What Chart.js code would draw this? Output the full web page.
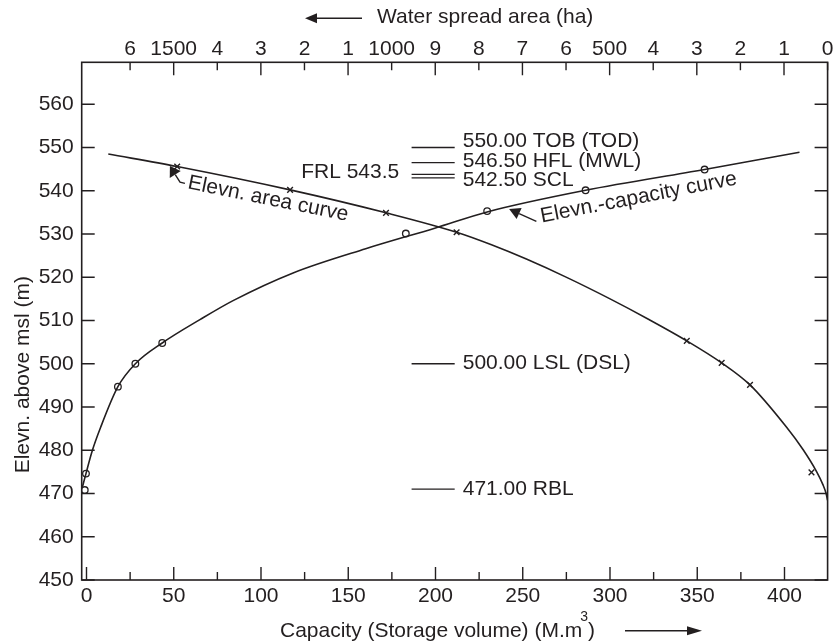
<!DOCTYPE html>
<html>
<head>
<meta charset="utf-8">
<script src="https://cdn.jsdelivr.net/npm/chart.js@4.4.0/dist/chart.umd.min.js"></script>
<style>
  html, body { margin: 0; padding: 0; background: #fff; }
  #wrap { width: 833px; height: 642px; position: relative; }
</style>
</head>
<body>
<div id="wrap"><canvas id="elevChart"></canvas></div>
<script>
// bottom axis: capacity (M.m3)
const capacityTicks = [0, 50, 100, 150, 200, 250, 300, 350, 400];
const capacityMinorTicks = [25, 75, 125, 175, 225, 275, 325, 375];
// left / right axis: elevation (m)
const elevationTicks = [450, 460, 470, 480, 490, 500, 510, 520, 530, 540, 550, 560];
// top axis: water spread area (ha), reversed
const areaTicks = [0, 100, 200, 300, 400, 500, 600, 700, 800, 900, 1000, 1100, 1200, 1300, 1400, 1500, 1600];

// elevation - capacity curve
const capCurveMcm  = [-2.4, -0.3, 3, 8, 18, 28, 43.4, 65, 84, 118.4, 160, 200, 229.6, 286, 354.2, 408.6];
const capCurveElev = [471.4, 474.6, 479.5, 485.2, 494.7, 500, 504.8, 510.2, 514.6, 521, 526.6, 531.4, 535.1, 540.1, 544.9, 548.9];
const capPointMcm  = [-1, -0.3, 18, 28, 43.4, 183, 229.6, 286, 354.2];
const capPointElev = [470.8, 474.6, 494.7, 500, 504.8, 530.1, 535.3, 540.1, 544.9];

// elevation - area curve
const areaCurveHa   = [1650, 1492, 1233, 1013, 851, 771, 691, 595, 499, 411, 323, 243, 178, 94, 56, 25, 10.5, 3.4, 0];
const areaCurveElev = [548.5, 545.6, 540.2, 534.9, 530.4, 527.5, 524.2, 519.8, 515.0, 510.3, 505.3, 500.2, 495.1, 485.3, 480.1, 475, 472, 470, 468.4];
const areaPointHa   = [1492, 1233, 1013, 851, 323, 243, 178, 37];
const areaPointElev = [545.6, 540.2, 534.9, 530.4, 505.3, 500.2, 495.1, 474.9];

// reservoir levels (short marker lines)
const levelElev = [550, 546.5, 543.8, 543.0, 500, 471];
const levelFrom = 186.3, levelTo = 211;
const levelText = ['550.00 TOB (TOD)', '546.50 HFL (MWL)', '542.50 SCL', '500.00 LSL (DSL)', '471.00 RBL'];
const levelTextElev = [551.5, 546.8, 542.4, 500.2, 471.1];

const ink = '#231f20';
const font = '"Liberation Sans", Arial, Helvetica, sans-serif';
Chart.defaults.font.family = font;
Chart.defaults.font.size = 21;
Chart.defaults.color = ink;

const pts = (xs, ys) => xs.map((x, i) => ({ x: x, y: ys[i] }));

const datasets = [
  { data: pts(capCurveMcm, capCurveElev), xAxisID: 'x', yAxisID: 'y', borderColor: ink, borderWidth: 1.6,
    pointRadius: 0, cubicInterpolationMode: 'monotone', fill: false },
  { data: pts(areaCurveHa, areaCurveElev), xAxisID: 'x2', yAxisID: 'y', borderColor: ink, borderWidth: 1.6,
    pointRadius: 0, cubicInterpolationMode: 'monotone', fill: false },
  { data: pts(capPointMcm, capPointElev), xAxisID: 'x', yAxisID: 'y', showLine: false, pointStyle: 'circle',
    pointRadius: 3.3, pointBackgroundColor: '#fff', pointBorderColor: ink, pointBorderWidth: 1.3 },
  { data: pts(areaPointHa, areaPointElev), xAxisID: 'x2', yAxisID: 'y', showLine: false, pointStyle: 'crossRot',
    pointRadius: 4, pointBorderColor: ink, pointBorderWidth: 1.4 }
];
levelElev.forEach(e => {
  datasets.push({ data: [{ x: levelFrom, y: e }, { x: levelTo, y: e }], xAxisID: 'x', yAxisID: 'y',
    borderColor: ink, borderWidth: 1.3, pointRadius: 0, fill: false });
});

function setTicks(values) {
  return scale => { scale.ticks = values.map(v => ({ value: v })); };
}

function areaLabel(v) {
  if (v % 500 === 0 && v > 0) return String(v);
  return String((v / 100) % 10);
}

function arrow(ctx, path, headLen, headW) {
  // path: tail ... tip (pixels)
  const n = path.length;
  const tip = path[n - 1], prev = path[n - 2];
  const dx = tip[0] - prev[0], dy = tip[1] - prev[1];
  const len = Math.hypot(dx, dy);
  const ux = dx / len, uy = dy / len;
  const bx = tip[0] - ux * headLen, by = tip[1] - uy * headLen;
  ctx.beginPath();
  ctx.moveTo(path[0][0], path[0][1]);
  for (let i = 1; i < n - 1; i++) ctx.lineTo(path[i][0], path[i][1]);
  ctx.lineTo(bx, by);
  ctx.stroke();
  ctx.beginPath();
  ctx.moveTo(tip[0], tip[1]);
  ctx.lineTo(bx - uy * headW / 2, by + ux * headW / 2);
  ctx.lineTo(bx + uy * headW / 2, by - ux * headW / 2);
  ctx.closePath();
  ctx.fill();
}

const framePlugin = {
  id: 'frame',
  afterDatasetsDraw(chart) {
    const { ctx, chartArea: a, scales } = chart;
    ctx.save();
    ctx.strokeStyle = ink;
    ctx.lineWidth = 1.6;
    ctx.strokeRect(a.left, a.top, a.right - a.left, a.bottom - a.top);
    ctx.lineWidth = 1.4;
    ctx.beginPath();
    capacityTicks.forEach(v => {
      const px = scales.x.getPixelForValue(v);
      ctx.moveTo(px, a.bottom); ctx.lineTo(px, a.bottom - 13);
    });
    capacityMinorTicks.forEach(v => {
      const px = scales.x.getPixelForValue(v);
      ctx.moveTo(px, a.bottom); ctx.lineTo(px, a.bottom - 8);
    });
    elevationTicks.forEach(v => {
      const py = scales.y.getPixelForValue(v);
      ctx.moveTo(a.left, py); ctx.lineTo(a.left + 13, py);
      ctx.moveTo(a.right, py); ctx.lineTo(a.right - 13, py);
    });
    areaTicks.forEach(v => {
      const px = scales.x2.getPixelForValue(v);
      const len = (v / 100) % 2 === 1 ? 13 : 8;
      ctx.moveTo(px, a.top); ctx.lineTo(px, a.top + len);
    });
    ctx.stroke();
    ctx.restore();
  },
  afterDraw(chart) {
    const { ctx, scales } = chart;
    const X = v => scales.x.getPixelForValue(v);
    const Y = v => scales.y.getPixelForValue(v);
    ctx.save();
    ctx.fillStyle = ink;
    ctx.strokeStyle = ink;
    ctx.lineWidth = 1.4;
    ctx.font = '21px ' + font;
    ctx.textBaseline = 'middle';

    // level labels
    ctx.textAlign = 'left';
    levelText.forEach((t, i) => ctx.fillText(t, X(215.6), Y(levelTextElev[i])));
    ctx.textAlign = 'right';
    ctx.fillText('FRL 543.5', X(179.2), Y(544.3));

    // curve labels
    ctx.textAlign = 'center';
    ctx.save();
    ctx.translate(X(104.1), Y(538.1));
    ctx.rotate(11.5 * Math.PI / 180);
    ctx.fillText('Elevn. area curve', 0, 0);
    ctx.restore();
    ctx.save();
    ctx.translate(X(316.4), Y(538.4));
    ctx.rotate(-11 * Math.PI / 180);
    ctx.fillText('Elevn.-capacity curve', 0, 0);
    ctx.restore();

    arrow(ctx, [[X(56.4), Y(541.7)], [X(53.6), Y(542.0)], [X(47.8), Y(545.7)]], 10, 13);
    arrow(ctx, [[X(257.8), Y(532.9)], [X(242.2), Y(535.8)]], 11, 12);

    // axis titles
    ctx.textAlign = 'left';
    const main = 'Capacity (Storage volume) (M.m';
    const tx = 280, ty = 631;
    ctx.fillText(main, tx, ty);
    const w = ctx.measureText(main).width;
    ctx.font = '14px ' + font;
    ctx.fillText('3', tx + w - 2, ty - 14);
    const w3 = ctx.measureText('3').width;
    ctx.font = '21px ' + font;
    ctx.fillText(')', tx + w - 2 + w3, ty);
    arrow(ctx, [[625, 630.7], [702, 630.7]], 15, 9);

    ctx.fillText('Water spread area (ha)', 377, 17);
    arrow(ctx, [[362, 18.3], [305, 18.3]], 12, 10);

    ctx.save();
    ctx.translate(23.5, 374.7);
    ctx.rotate(-Math.PI / 2);
    ctx.textAlign = 'center';
    ctx.fillText('Elevn. above msl (m)', 0, 0);
    ctx.restore();

    ctx.restore();
  }
};

const noGrid = { display: false, drawTicks: false };
const ctx = document.getElementById('elevChart').getContext('2d');
const elevChart = new Chart(ctx, {
  type: 'line',
  data: { datasets: datasets },
  options: {
    responsive: true,
    maintainAspectRatio: false,
    animation: false,
    layout: { padding: { right: 5 } },
    plugins: { legend: { display: false }, tooltip: { enabled: false } },
    scales: {
      x: {
        type: 'linear', position: 'bottom', min: -2.75, max: 424.7,
        grid: noGrid, border: { display: false },
        afterBuildTicks: setTicks(capacityTicks),
        afterFit: s => { s.height = 62; s.paddingLeft = 0; s.paddingRight = 0; },
        ticks: { padding: 4, maxRotation: 0, autoSkip: false }
      },
      x2: {
        type: 'linear', position: 'top', reverse: true, min: 0, max: 1711,
        grid: noGrid, border: { display: false },
        afterBuildTicks: setTicks(areaTicks),
        afterFit: s => { s.height = 62.3; s.paddingLeft = 0; s.paddingRight = 0; },
        ticks: { padding: 0, maxRotation: 0, autoSkip: false, callback: areaLabel }
      },
      y: {
        type: 'linear', position: 'left', min: 450, max: 569.7,
        grid: noGrid, border: { display: false },
        afterBuildTicks: setTicks(elevationTicks),
        afterFit: s => { s.width = 81.7; },
        ticks: { padding: 8, autoSkip: false }
      }
    }
  },
  plugins: [framePlugin]
});
</script>
</body>
</html>
